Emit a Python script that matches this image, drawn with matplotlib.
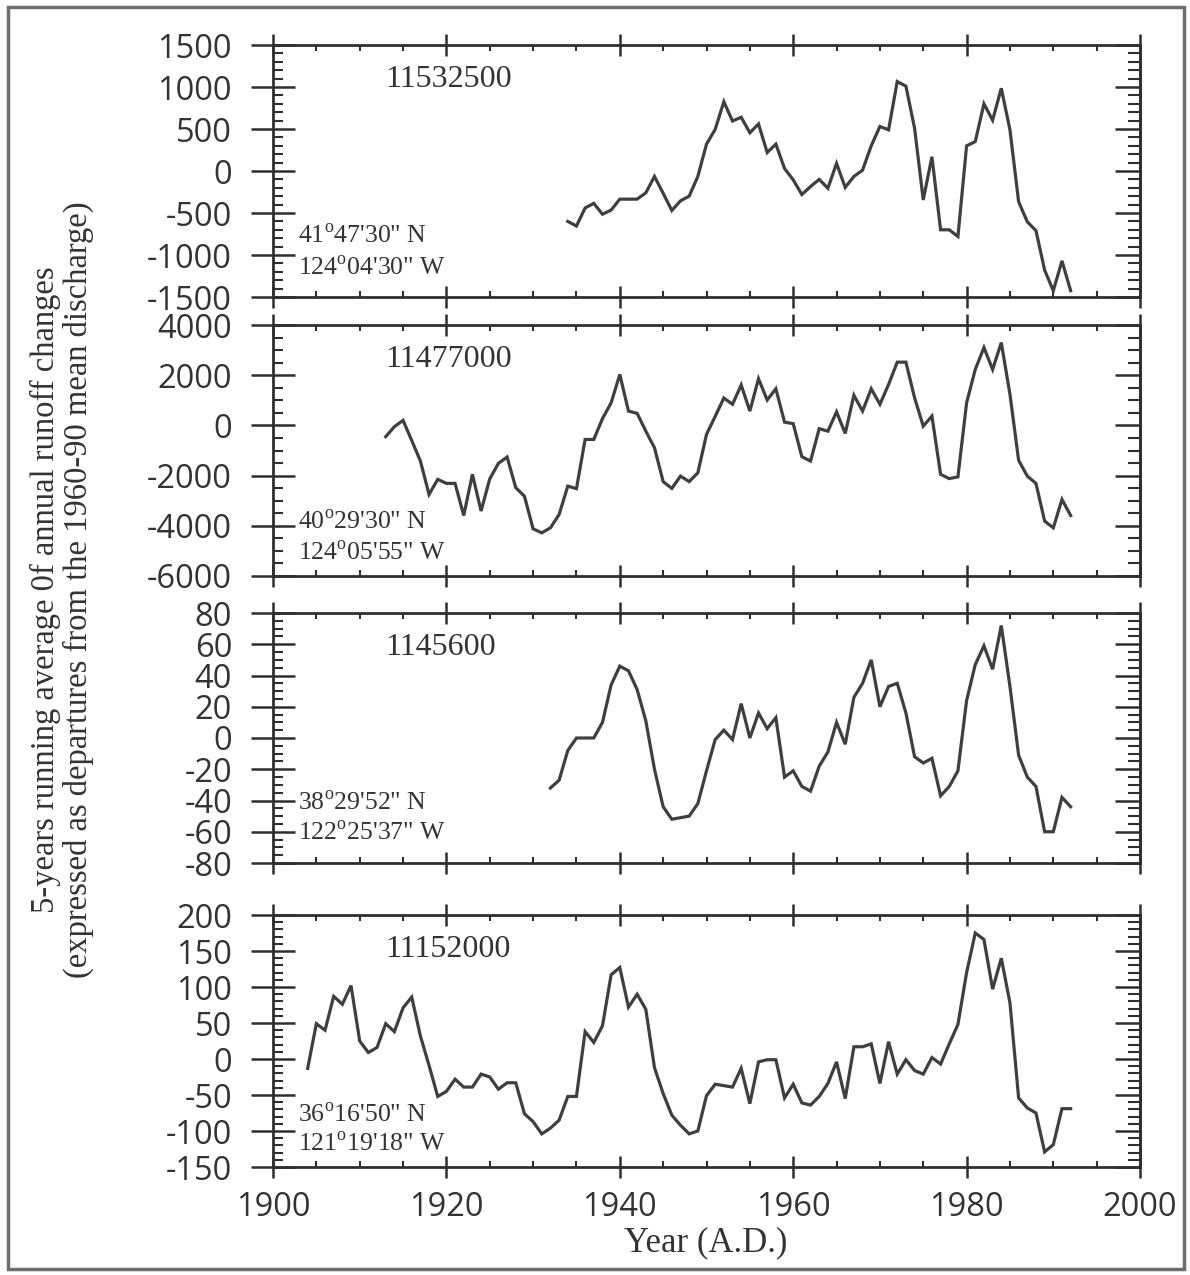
import numpy as np
import matplotlib.pyplot as plt
from matplotlib.patches import Rectangle
from matplotlib.ticker import MultipleLocator

plt.rcParams['mathtext.fontset'] = 'custom'
plt.rcParams['mathtext.rm'] = 'Liberation Serif'
plt.rcParams['axes.unicode_minus'] = False

W, H = 1190, 1275
LINE_COLOR = '#3f3f3f'
INK = '#2f2f2f'
TICK_FONT = 'Open Sans'
SERIF = 'Liberation Serif'

# 5-year running mean of runoff departures, one series per gauging station
years_11532500 = np.arange(1934, 1993)
runoff_11532500 = [
    -600, -655, -440, -385, -515, -465, -335, -335, -335, -260,
    -65, -265, -470, -355, -300, -65, 320, 495, 825, 595,
    640, 455, 560, 220, 320, 30, -105, -280, -185, -100,
    -205, 90, -195, -65, 10, 300, 530, 490, 1065, 1010,
    510, -345, 170, -700, -700, -780, 300, 350, 800, 605,
    985, 490, -365, -605, -710, -1180, -1425, -1070, -1425]

years_11477000 = np.arange(1913, 1993)
runoff_11477000 = [
    -450, -50, 200, -600, -1420, -2750, -2150, -2310, -2310, -3590,
    -1950, -3410, -2130, -1510, -1260, -2480, -2820, -4120, -4280, -4080,
    -3550, -2420, -2520, -560, -560, 270, 900, 2030, 570, 480,
    -230, -890, -2240, -2510, -2020, -2240, -1890, -360, 360, 1090,
    840, 1610, 570, 1860, 1010, 1460, 130, 70, -1250, -1420,
    -130, -230, 540, -320, 1200, 570, 1460, 840, 1630, 2520,
    2520, 1100, -30, 370, -1950, -2120, -2050, 900, 2230, 3100,
    2230, 3300, 1240, -1390, -2020, -2310, -3810, -4080, -2950, -3590]

years_1145600 = np.arange(1932, 1993)
runoff_1145600 = [
    -32, -27, -8, 0, 0, 0, 10, 34, 46, 43,
    31, 11, -20, -44, -52, -51, -50, -42, -21, -1,
    5, -1, 22, 0, 16, 6, 13, -25, -21, -31,
    -34, -18, -9, 10, -4, 26, 35, 50, 20, 33,
    35, 16, -12, -16, -13, -37, -31, -21, 24, 47,
    59, 44, 72, 33, -11, -25, -31, -60, -60, -38,
    -44]

years_11152000 = np.arange(1904, 1993)
runoff_11152000 = [
    -13, 49, 40, 87, 76, 102, 25, 9, 16, 49,
    38, 71, 86, 32, -9, -52, -45, -28, -39, -39,
    -21, -25, -42, -33, -33, -76, -87, -104, -96, -85,
    -52, -52, 38, 23, 46, 117, 127, 72, 90, 69,
    -12, -48, -78, -92, -104, -100, -51, -35, -37, -39,
    -13, -62, -4, -1, -1, -54, -35, -61, -64, -52,
    -34, -4, -55, 17, 17, 21, -34, 24, -21, -1,
    -16, -21, 2, -7, 21, 48, 120, 175, 166, 97,
    140, 78, -54, -68, -75, -129, -119, -69, -69]

stations = ['11532500', '11477000', '1145600', '11152000']
latitudes = ['41$^{\\mathrm{o}}$47\'30" N', '40$^{\\mathrm{o}}$29\'30" N',
             '38$^{\\mathrm{o}}$29\'52" N', '36$^{\\mathrm{o}}$16\'50" N']
longitudes = ['124$^{\\mathrm{o}}$04\'30" W', '124$^{\\mathrm{o}}$05\'55" W',
              '122$^{\\mathrm{o}}$25\'37" W', '121$^{\\mathrm{o}}$19\'18" W']

series = [(years_11532500, runoff_11532500),
          (years_11477000, runoff_11477000),
          (years_1145600, runoff_1145600),
          (years_11152000, runoff_11152000)]

# y range, major step, minor step for each panel
y_scales = [(-1500, 1500, 500, 100),
            (-6000, 4000, 2000, 500),
            (-80, 80, 20, 5),
            (-150, 200, 50, 10)]

# panel top/bottom in pixels, plus baselines (axes fraction) of lat/lon lines
panel_px = [(45, 297), (325, 576), (613, 863), (915, 1167)]
latlon_y = [(0.213, 0.085), (0.186, 0.064), (0.212, 0.092), (0.176, 0.061)]

fig = plt.figure(figsize=(W / 100, H / 100), dpi=100)

for i, (top, bottom) in enumerate(panel_px):
    ax = fig.add_axes([273 / W, 1 - bottom / H, 867 / W, (bottom - top) / H])
    years, values = series[i]
    lo, hi, major, minor = y_scales[i]

    ax.plot(years, values, color=LINE_COLOR, linewidth=2.3, solid_joinstyle='miter')

    ax.set_xlim(1900, 2000)
    ax.set_ylim(lo, hi)
    ax.xaxis.set_major_locator(MultipleLocator(20))
    ax.xaxis.set_minor_locator(MultipleLocator(5))
    ax.yaxis.set_major_locator(MultipleLocator(major))
    ax.yaxis.set_minor_locator(MultipleLocator(minor))

    for side in ax.spines.values():
        side.set_linewidth(2.0)
        side.set_color(INK)

    ax.tick_params(axis='x', which='major', direction='inout', length=16, width=1.8,
                   top=True, bottom=True, color=INK, pad=9,
                   labelbottom=(i == 3), labelsize=23.5, labelcolor='#333333')
    ax.tick_params(axis='x', which='minor', direction='in', length=4.5, width=1.5,
                   top=True, bottom=True, color=INK)
    ax.tick_params(axis='y', which='major', direction='inout', length=31, width=1.8,
                   left=True, right=False, color=INK, pad=14,
                   labelsize=23.5, labelcolor='#333333')
    ax.tick_params(axis='y', which='minor', direction='in', length=7, width=1.5,
                   left=True, right=False, color=INK)
    for lab in ax.get_xticklabels() + ax.get_yticklabels():
        lab.set_fontfamily(TICK_FONT)

    # right-hand ticks point inward only
    sec = ax.secondary_yaxis('right')
    sec.yaxis.set_major_locator(MultipleLocator(major))
    sec.yaxis.set_minor_locator(MultipleLocator(minor))
    sec.tick_params(which='major', direction='in', length=18, width=1.8, color=INK,
                    labelright=False)
    sec.tick_params(which='minor', direction='in', length=8.5, width=1.5, color=INK,
                    labelright=False)
    sec.spines['right'].set_linewidth(2.0)
    sec.spines['right'].set_color(INK)

    ax.text(0.129, 0.833, stations[i], transform=ax.transAxes, family=SERIF,
            fontsize=23, color='#333333', va='baseline')
    ax.text(0.029, latlon_y[i][0], latitudes[i], transform=ax.transAxes,
            family=SERIF, fontsize=18.5, color='#333333', va='baseline')
    ax.text(0.029, latlon_y[i][1], longitudes[i], transform=ax.transAxes,
            family=SERIF, fontsize=18.5, color='#333333', va='baseline')

fig.text(706 / W, 1 - 1243 / H, 'Year (A.D.)', family=SERIF, fontsize=25,
         color='#333333', ha='center', va='center')
fig.text(62 / W, 1 - 590 / H,
         '5-years running average 0f annual runoff changes\n'
         '(expressed as departures from the 1960-90 mean discharge)',
         family=SERIF, fontsize=23.5, color='#333333', rotation=90,
         ha='center', va='center', multialignment='center', linespacing=1.1)

# outer frame around the whole figure
fig.patches.append(Rectangle((8 / W, 6 / H), 1176 / W, 1262 / H,
                             transform=fig.transFigure, fill=False,
                             edgecolor='#6e6e6e', linewidth=2.5))

fig.savefig('out.png', dpi=100)
